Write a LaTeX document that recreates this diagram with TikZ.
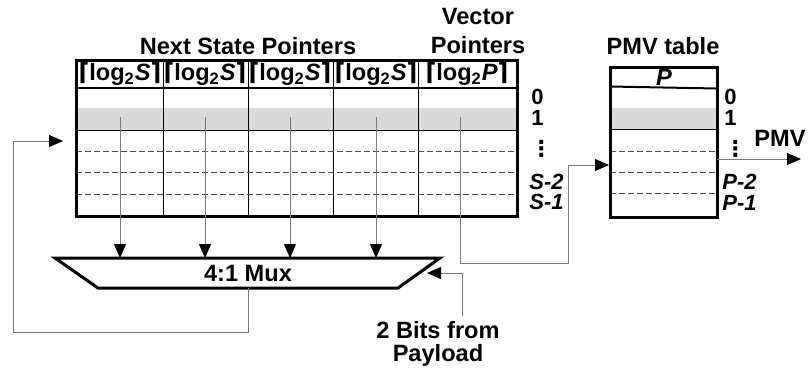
\documentclass[tikz,border=0pt]{standalone}
\usepackage{fontspec}
\setmainfont{Liberation Sans}
\newfontfamily\symfont{DejaVu Sans}
\usetikzlibrary{arrows.meta}
\definecolor{ink}{HTML}{000000}
\definecolor{wiregray}{HTML}{7A7A7A}
\definecolor{rowgray}{HTML}{D9D9D9}
\definecolor{dashgray}{HTML}{4D4D4D}
\newcommand{\figfontsize}{\fontsize{11.8}{14.5}\selectfont\bfseries}
\newcommand{\rowfontsize}{\fontsize{11}{12}\selectfont\bfseries}
\newcommand{\ceillog}[1]{{\symfont\char"2308}log\textsubscript{2}\textit{#1}{\symfont\char"2309}}
\newcommand{\rowdots}{{\symfont\char"22EE}}
\tikzset{
  every picture/.style = {font=\figfontsize, line join=miter},
  frame/.style         = {line width=1.5pt, ink},
  hdrline/.style       = {line width=1pt, ink},
  cell/.style          = {line width=0.5pt, ink},
  rowdash/.style       = {line width=0.5pt, dashgray, dash pattern=on 3pt off 1.5pt},
  wire/.style          = {line width=0.5pt, wiregray},
  ptr/.style           = {-{Triangle[length=7pt,width=6pt,color=ink]}},
  lbl/.style           = {inner sep=0pt, text=ink},
  rownum/.style        = {lbl, anchor=west, font=\rowfontsize},
}

\begin{document}
\begin{tikzpicture}[x=0.5pt, y=-0.5pt]
  \useasboundingbox (0,0) rectangle (809,371);
  \def\Lx{76}\def\Rx{517}\def\Ty{60}\def\Hy{88}\def\By{216}   % state table
  \def\Pl{610}\def\Pr{717}\def\Pt{67}\def\Pb{217}             % PMV table
  \def\Mt{258}\def\Mb{288}                                    % mux top, bottom

  % selected row, shaded first so the lines sit on it
  \fill[rowgray] (\Lx,108) rectangle (\Rx,130);
  \fill[rowgray] (\Pl,108) rectangle (\Pr,129);

  % state table
  \foreach \x in {163,248,333,418} \draw[cell] (\x,\Ty) -- (\x,\By);
  \draw[cell] (\Lx,130) -- (\Rx,130);
  \foreach \y in {151,172,194} \draw[rowdash] (\Lx,\y) -- (\Rx,\y);
  \draw[hdrline] (\Lx,\Hy) -- (\Rx,\Hy);
  \draw[frame] (\Lx,\Ty) rectangle (\Rx,\By);

  % PMV table
  \draw[cell] (\Pl,129) -- (\Pr,129);
  \foreach \y in {151,172,193} \draw[rowdash] (\Pl,\y) -- (\Pr,\y);
  \draw[hdrline] (\Pl,86.5) -- (\Pr,88.5);
  \draw[frame] (\Pl,\Pt) rectangle (\Pr,\Pb);

  % headers
  \foreach \i/\x in {1/120,2/205,3/290,4/376}
    \node[lbl] (hs\i) at (\x,74) {\ceillog{S}};
  \node[lbl] (hp) at (467,74) {\ceillog{P}};
  \node[lbl] (hpmv) at (664,77) {\textit{P}};
  \node[lbl] (tnext) at (248,46) {Next State Pointers};
  \node[lbl, align=center] (tvec) at (478,31) {Vector\\Pointers};
  \node[lbl] (tpmv) at (663,46) {PMV table};

  % row numbers
  \node[rownum] (s0) at (531,97) {0};
  \node[rownum] (s1) at (531,118) {1};
  \node[rownum] (sd) at (530,149) {\rowdots};
  \node[rownum] (s2) at (529,182) {\textit{S-2}};
  \node[rownum] (s3) at (529,202) {\textit{S-1}};
  \node[rownum] (p0) at (724,97) {0};
  \node[rownum] (p1) at (724,118) {1};
  \node[rownum] (pd) at (724,149) {\rowdots};
  \node[rownum] (p2) at (722,182) {\textit{P-2}};
  \node[rownum] (p3) at (722,203) {\textit{P-1}};

  % the mux
  \coordinate (m1) at (55,\Mt);
  \coordinate (m2) at (440,\Mt);
  \coordinate (m3) at (398,\Mb);
  \coordinate (m4) at (98,\Mb);
  \draw[frame] (m1) -- (m2) -- (m3) -- (m4) -- cycle;
  \node[lbl] (mux) at (248,273) {4:1 Mux};

  % next state pointers of the selected row into the mux
  \foreach \i/\x in {1/120,2/205,3/290,4/376} {
    \coordinate (src\i) at (\x,117);
    \coordinate (dst\i) at (\x,\Mt);
    \draw[wire, ptr] (src\i) -- (dst\i);
  }

  % mux output back to the state table
  \coordinate (mout) at (248,\Mb);
  \coordinate (back) at (63,141);
  \draw[wire, ptr] (mout) -- (248,332) -| (13,141) -- (back);

  % vector pointer into the PMV table
  \coordinate (vsrc) at (460,117);
  \coordinate (vdst) at (609,165);
  \draw[wire, ptr] (vsrc) -- (460,263) -| (568,165) -- (vdst);

  % payload bits select the mux input
  \node[lbl, align=center, font=\fontsize{11.8}{11.5}\selectfont\bfseries] (pay) at (438,344) {2 Bits from\\Payload};
  \coordinate (sel) at (427,273);
  \draw[wire, ptr] (462,316) |- (sel);

  % PMV out
  \coordinate (pout) at (\Pr,159);
  \coordinate (pend) at (801,159);
  \draw[wire, ptr] (pout) -- (pend);
  \node[lbl] (tout) at (780,138) {PMV};
\end{tikzpicture}
\end{document}
